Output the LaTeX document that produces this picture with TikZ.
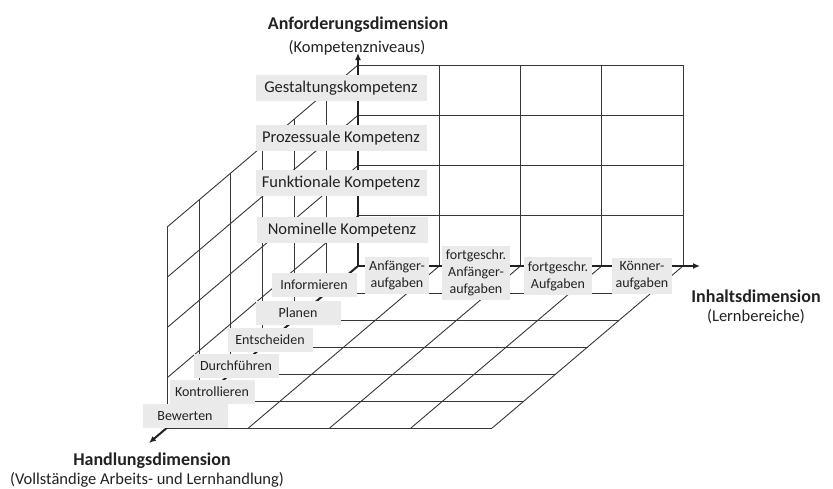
\documentclass[tikz,border=0pt]{standalone}
\usepackage{fontspec}
\setmainfont{Carlito}
\usetikzlibrary{arrows.meta,calc}
\definecolor{gridc}{RGB}{55,55,55}
\definecolor{boxc}{RGB}{234,234,234}
\definecolor{inkc}{RGB}{34,34,34}
\begin{document}
\begin{tikzpicture}[x=1pt,y=-1pt,
  gridline/.style={draw=gridc, line width=0.9pt},
  axisline/.style={draw=inkc, line width=2pt, -{Latex[length=7pt,width=6pt]}},
  lvlbox/.style={fill=boxc, text=inkc, font=\fontsize{16.5}{19}\selectfont,
    minimum width=171pt, minimum height=26pt, inner sep=0pt},
  contbox/.style={fill=boxc, text=inkc, font=\fontsize{14}{17}\selectfont,
    align=center, inner xsep=4pt, inner ysep=4pt},
  actbox/.style={fill=boxc, text=inkc, font=\fontsize{14}{17}\selectfont,
    minimum width=85pt, minimum height=24pt, inner sep=0pt},
  dimtitle/.style={text=inkc, font=\bfseries\fontsize{18}{21}\selectfont, inner sep=0pt},
  dimsub/.style={text=inkc, font=\fontsize{16.5}{20}\selectfont, inner sep=0pt}]
% canvas
\fill[white] (0,0) rectangle (833,488);
\useasboundingbox (0,0) rectangle (833,488);

% origin of the three dimensions
\coordinate (O) at (358,266);

% back wall: competence levels x content areas
\foreach \i in {1,...,4}
  \draw[gridline] ($(O)+(\i*81.25,0)$) -- ++(0,-201);
\foreach \j in {1,...,4}
  \draw[gridline] ($(O)+(0,-\j*50.25)$) -- ++(325,0);

% side wall: competence levels x action steps
\foreach \k in {1,...,6}
  \draw[gridline] ($(O)+(\k*-31.8,\k*27)$) -- ++(0,-201);
\foreach \j in {1,...,4}
  \draw[gridline] ($(O)+(0,-\j*50.25)$) -- ++(-190.8,162);

% floor: action steps x content areas
\foreach \k in {1,...,6}
  \draw[gridline] ($(O)+(\k*-31.8,\k*27)$) -- ++(325,0);
\foreach \i in {1,...,4}
  \draw[gridline] ($(O)+(\i*81.25,0)$) -- ++(-190.8,162);

% axes
\coordinate (ztip) at (358,53);
\coordinate (xtip) at (700,266);
\coordinate (ytip) at (149,443);
\draw[axisline] (O) -- (ztip);
\draw[axisline] (O) -- (xtip);
\draw[axisline] (O) -- (ytip);

% competence levels
\node[lvlbox] (l4) at (341,88)  {Gestaltungskompetenz};
\node[lvlbox] (l3) at (341,138) {Prozessuale Kompetenz};
\node[lvlbox] (l2) at (341,183) {Funktionale Kompetenz};
\node[lvlbox] (l1) at (342,230) {Nominelle Kompetenz};

% content areas
\node[contbox] (c1) at (397,275) {Anfänger-\\aufgaben};
\node[contbox] (c2) at (476,273) {fortgeschr.\\Anfänger-\\aufgaben};
\node[contbox] (c3) at (558,276) {fortgeschr.\\Aufgaben};
\node[contbox] (c4) at (642,276) {Könner-\\aufgaben};

% action steps
\node[actbox] (a1) at (314,285) {Informieren};
\node[actbox] (a2) at (298,313) {Planen};
\node[actbox] (a3) at (270,340) {Entscheiden};
\node[actbox] (a4) at (236,366) {Durchführen};
\node[actbox] (a5) at (212,392) {Kontrollieren};
\node[actbox] (a6) at (185,416) {Bewerten};

% dimension titles
\node[dimtitle] (tz) at (358,25) {Anforderungsdimension};
\node[dimsub]   (sz) at (357,48) {(Kompetenzniveaus)};
\node[dimtitle] (tx) at (756,296) {Inhaltsdimension};
\node[dimsub]   (sx) at (756,317) {(Lernbereiche)};
\node[dimtitle] (ty) at (152,461) {Handlungsdimension};
\node[dimsub]   (sy) at (147,480) {(Vollständige Arbeits- und Lernhandlung)};
\end{tikzpicture}
\end{document}
